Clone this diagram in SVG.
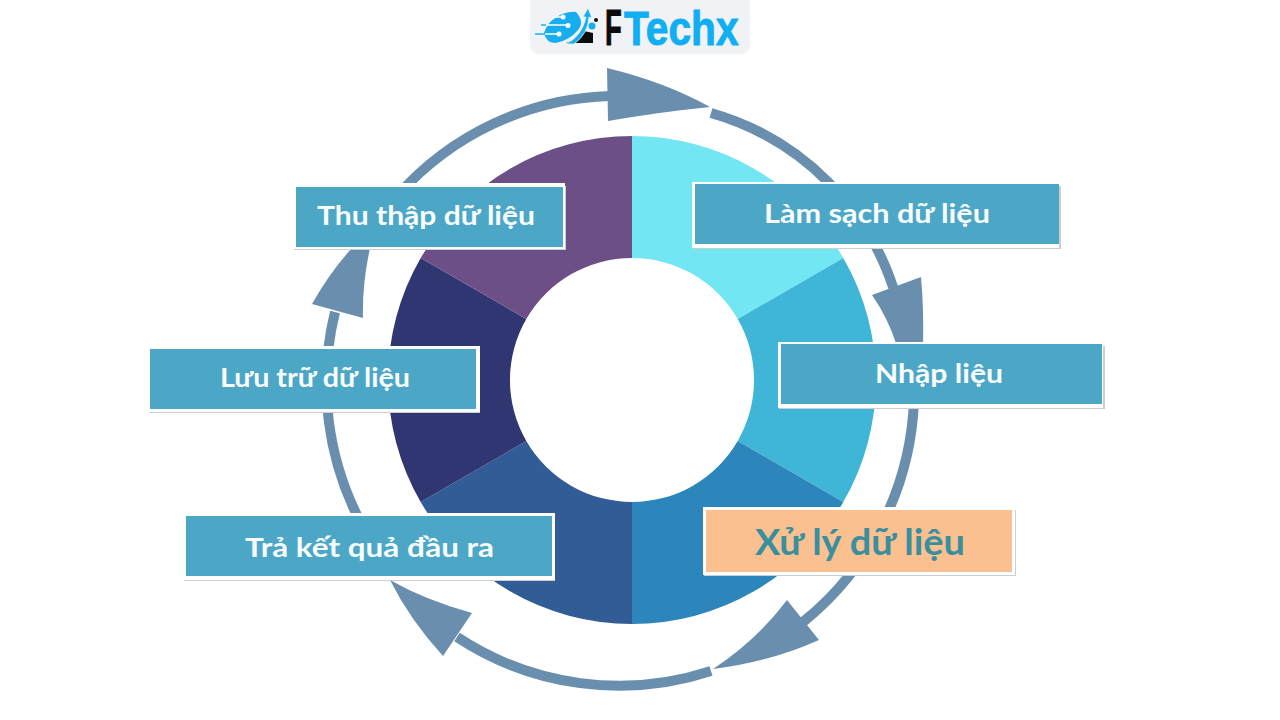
<svg xmlns="http://www.w3.org/2000/svg" width="1280" height="720" viewBox="0 0 1280 720">
<style>
.arc{fill:none;stroke:#6a8fae;stroke-width:10}
.head{fill:#6a8fae}
.sh{fill:#c9ced3}
.wh{fill:#ffffff}
.bx{fill:#4ca7c7}
.lb{font-family:"Lato","Noto Sans",sans-serif;font-weight:700;font-size:27px;fill:#f8fcfd}
.lo{font-family:"Liberation Sans",Arial,sans-serif;font-weight:700;font-size:49px;stroke-width:1}
</style>
<rect width="1280" height="720" fill="#ffffff"/>
<g id="logo">
<rect x="530" y="-8" width="220" height="62" rx="9" fill="#f0f2f5"/>
<path d="M566,43 Q578,40 584,31 L593,33 L593,43 Z" fill="#0d0d0d"/>
<path d="M544,33 Q548,20 562,14 Q572,11 576,12 Q585,22 578,30 Q570,40 556,43 Q546,43 544,33 Z" fill="#17aeef"/>
<path d="M566,44 Q582,36 586,17 L583,17 L588,8 L592,18 L589,17 Q588,34 574,44 Z" fill="#17aeef" stroke="#f0f2f5" stroke-width="0.8"/>
<path d="M543,25 H568 M552,17 H563 M545,34 H559" stroke="#ffffff" stroke-width="1.3" fill="none"/>
<path d="M535,34 H545 M541,25 H546" stroke="#17aeef" stroke-width="1.4"/>
<circle cx="559" cy="34" r="2.5" fill="#fff"/><circle cx="568" cy="25.500" r="2.5" fill="#fff"/><circle cx="563" cy="17" r="2.5" fill="#fff"/>
<circle cx="592" cy="26" r="3.5" fill="#17aeef"/><circle cx="596" cy="20" r="2" fill="#111"/>
<text class="lo" transform="translate(605,45) scale(.56,1)" fill="#0b0b0b" stroke="#0b0b0b">F</text>
<text class="lo" transform="translate(624,45) scale(.83,1)" fill="#10aef2" stroke="#10aef2">Techx</text>
</g>
<g id="wheel">
<path id="s1" d="M632,136 A244,244 0 0 1 843.3,258 L737.7,319 A122,122 0 0 0 632,258 Z" fill="#72e6f2"/>
<path id="s2" d="M843.3,258 A244,244 0 0 1 843.3,502 L737.7,441 A122,122 0 0 0 737.7,319 Z" fill="#3fb5d7"/>
<path id="s3" d="M843.3,502 A244,244 0 0 1 632,624 L632,502 A122,122 0 0 0 737.7,441 Z" fill="#2d86bb"/>
<path id="s4" d="M632,624 A244,244 0 0 1 420.7,502 L526.3,441 A122,122 0 0 0 632,502 Z" fill="#315c96"/>
<path id="s5" d="M420.7,502 A244,244 0 0 1 420.7,258 L526.3,319 A122,122 0 0 0 526.3,441 Z" fill="#303672"/>
<path id="s6" d="M420.7,258 A244,244 0 0 1 632,136 L632,258 A122,122 0 0 0 526.3,319 Z" fill="#6d4f87"/>
</g>
<g id="connectors">
<path class="arc" d="M398,195 A296,298 0 0 1 610,96"/>
<path class="head" d="M607,68 Q665,82 710,107 Q660,112 608,121 Z"/>
<path class="arc" d="M711,113 A270,270 0 0 1 897,300"/>
<path class="head" d="M872,295 L921,277 Q924,310 923,346 L897,346 Q888,318 872,295 Z"/>
<path class="arc" d="M914,400 A296,298 0 0 1 803,622"/>
<path class="head" d="M787,600 L819,640 Q770,662 713,669 Q757,640 787,600 Z"/>
<path class="arc" d="M711,671 A296,298 0 0 1 457,637"/>
<path class="head" d="M390,580 Q425,600 472,613 L443,656 Q410,620 390,580 Z"/>
<path class="arc" d="M362,525 A296,298 0 0 1 335,312"/>
<path class="head" d="M312,304 Q330,272 352,248 L370,248 Q362,285 363,318 Z"/>
</g>
<g id="n1"><rect class="sh" x="294" y="186" width="272" height="64"/><rect class="wh" x="293" y="183" width="272" height="66"/><rect class="bx" x="296" y="187" width="267" height="60"/>
<text class="lb" x="317" y="225" textLength="218" lengthAdjust="spacingAndGlyphs">Thu thập dữ liệu</text></g>
<g id="n2"><rect class="sh" x="693" y="186" width="368" height="63"/><rect class="wh" x="692" y="182" width="367" height="66"/><rect class="bx" x="695" y="184" width="364" height="60"/>
<text class="lb" x="764" y="223" textLength="226" lengthAdjust="spacingAndGlyphs">Làm sạch dữ liệu</text></g>
<g id="n3"><rect class="sh" x="779" y="346" width="326" height="63"/><rect class="wh" x="778" y="342" width="325" height="66"/><rect class="bx" x="781" y="344" width="321" height="60"/>
<text class="lb" x="875" y="383" textLength="128" lengthAdjust="spacingAndGlyphs">Nhập liệu</text></g>
<g id="n4"><rect class="sh" x="150" y="352" width="330" height="61"/><rect class="wh" x="150" y="346" width="330" height="66"/><rect class="bx" x="150" y="349" width="326" height="60"/>
<text class="lb" x="220" y="387" textLength="190" lengthAdjust="spacingAndGlyphs">Lưu trữ dữ liệu</text></g>
<g id="n5"><rect class="sh" x="184" y="516" width="371" height="65"/><rect class="wh" x="183" y="513" width="372" height="67"/><rect class="bx" x="186" y="516" width="366" height="60"/>
<text class="lb" x="245" y="557" textLength="249" lengthAdjust="spacingAndGlyphs">Trả kết quả đầu ra</text></g>
<g id="n6"><rect class="sh" x="704" y="510" width="312" height="66"/><rect class="wh" x="703" y="507" width="312" height="68"/><rect x="706" y="510" width="306" height="62" fill="#fbc090"/>
<text x="755" y="555" font-family="Lato,'Noto Sans',sans-serif" font-weight="700" font-size="36" fill="#3a8f9f" textLength="210" lengthAdjust="spacingAndGlyphs">Xử lý dữ liệu</text></g>
</svg>
